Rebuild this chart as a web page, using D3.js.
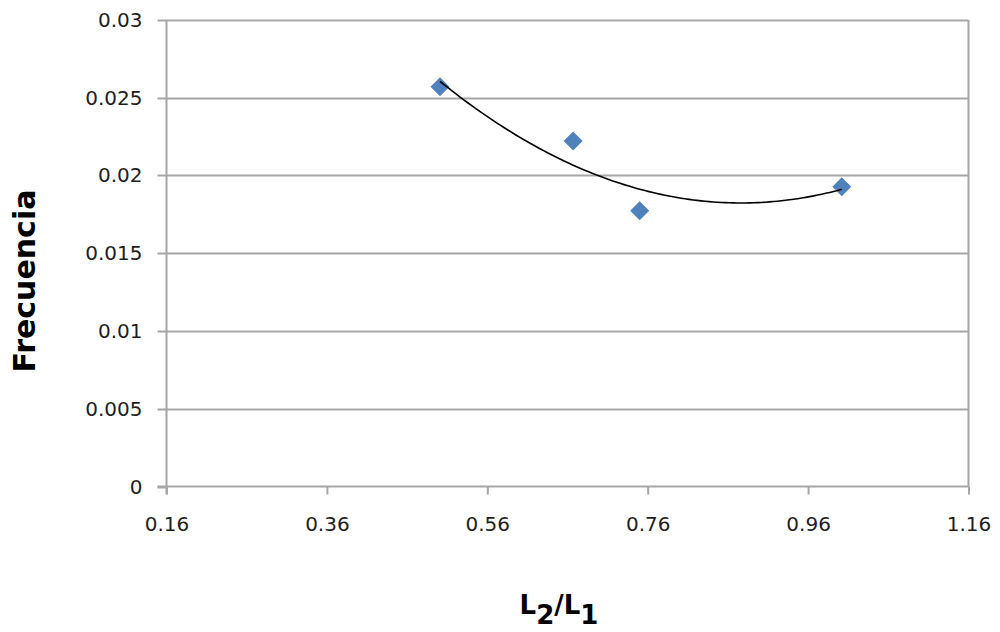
<!DOCTYPE html>
<html>
<head>
<meta charset="utf-8">
<script src="https://cdn.jsdelivr.net/npm/d3@7"></script>
<style>
  html, body { margin: 0; padding: 0; background: #fff; }
  svg { display: block; }
</style>
</head>
<body>
<svg id="chart" width="1000" height="632"></svg>
<script>
// ---- Data ----
const ratioL2L1 = [0.501, 0.667, 0.750, 1.002];
const frecuencia = [0.02571, 0.02222, 0.01774, 0.01928];
const xTickValues = [0.16, 0.36, 0.56, 0.76, 0.96, 1.16];
const yTickValues = [0, 0.005, 0.01, 0.015, 0.02, 0.025, 0.03];
const yTickLabels = ["0", "0.005", "0.01", "0.015", "0.02", "0.025", "0.03"];

(function () {
const svg = d3.select("#chart");
const mLeft = 166.5, mRight = 968.5, mTop = 20, mBottom = 486.5;

const x = d3.scaleLinear().domain([0.16, 1.16]).range([mLeft, mRight]);
const y = d3.scaleLinear().domain([0, 0.03]).range([mBottom, mTop]);

const grid = "#a6a6a6";
const textCol = "#1e1e1e";

// Horizontal gridlines
svg.append("g").selectAll("line").data(yTickValues.slice(1)).join("line")
  .attr("x1", mLeft).attr("x2", mRight)
  .attr("y1", d => Math.round(y(d)) + 0.5).attr("y2", d => Math.round(y(d)) + 0.5)
  .attr("stroke", grid).attr("stroke-width", 2);

// Right border
svg.append("line").attr("x1", mRight).attr("x2", mRight).attr("y1", mTop).attr("y2", mBottom)
  .attr("stroke", grid).attr("stroke-width", 2);

// Y axis
const yAxis = d3.axisLeft(y).tickValues(yTickValues).tickSize(9)
  .tickFormat((d, i) => yTickLabels[i]).tickPadding(15);
const gy = svg.append("g").attr("transform", `translate(${mLeft},0)`).call(yAxis);
gy.select(".domain").remove();
gy.append("line").attr("x1", 0).attr("x2", 0).attr("y1", mTop).attr("y2", mBottom + 8)
  .attr("stroke", grid).attr("stroke-width", 2);
gy.selectAll(".tick line").attr("stroke", grid).attr("stroke-width", 2);
gy.selectAll(".tick").attr("transform", d => `translate(0,${Math.round(y(d)) + 0.5})`);
gy.selectAll("text").attr("font-family", "DejaVu Sans").attr("font-size", 20)
  .attr("fill", textCol);

// X axis
const xAxis = d3.axisBottom(x).tickValues(xTickValues).tickSize(8)
  .tickFormat(d3.format(".2f")).tickPadding(22);
const gx = svg.append("g").attr("transform", `translate(0,${mBottom})`).call(xAxis);
gx.select(".domain").remove();
gx.append("line").attr("x1", mLeft - 9).attr("x2", mRight).attr("y1", 0).attr("y2", 0)
  .attr("stroke", grid).attr("stroke-width", 2);
gx.selectAll(".tick line").attr("stroke", grid).attr("stroke-width", 2);
gx.selectAll("text").attr("font-family", "DejaVu Sans").attr("font-size", 20)
  .attr("fill", textCol);

// Quadratic least-squares trendline (as in the original's polynomial trendline)
function quadFit(xs, ys) {
  const n = xs.length;
  const s = [0,0,0,0,0], t = [0,0,0];
  for (let i = 0; i < n; i++) {
    let p = 1;
    for (let k = 0; k < 5; k++) { s[k] += p; p *= xs[i]; }
    t[0] += ys[i]; t[1] += ys[i]*xs[i]; t[2] += ys[i]*xs[i]*xs[i];
  }
  const A = [[s[0],s[1],s[2],t[0]],[s[1],s[2],s[3],t[1]],[s[2],s[3],s[4],t[2]]];
  for (let c = 0; c < 3; c++) {
    for (let r = c+1; r < 3; r++) {
      const f = A[r][c] / A[c][c];
      for (let k = c; k < 4; k++) A[r][k] -= f * A[c][k];
    }
  }
  const coef = [0,0,0];
  for (let r = 2; r >= 0; r--) {
    let v = A[r][3];
    for (let k = r+1; k < 3; k++) v -= A[r][k]*coef[k];
    coef[r] = v / A[r][r];
  }
  return coef;
}
const cf = quadFit(ratioL2L1, frecuencia);
const x0 = d3.min(ratioL2L1), x1 = d3.max(ratioL2L1);
const curvePts = d3.range(0, 101).map(i => {
  const xv = x0 + (x1 - x0) * i / 100;
  return [xv, cf[0] + cf[1]*xv + cf[2]*xv*xv];
});

// Diamond markers
svg.append("g").selectAll("path").data(ratioL2L1.map((d, i) => [d, frecuencia[i]])).join("path")
  .attr("d", d3.symbol().type(d3.symbolSquare).size(180))
  .attr("transform", d => `translate(${x(d[0])},${y(d[1])}) rotate(45)`)
  .attr("fill", "#4f81bd");

// Trendline on top of markers
svg.append("path").datum(curvePts)
  .attr("d", d3.line().x(d => x(d[0])).y(d => y(d[1])))
  .attr("fill", "none").attr("stroke", "#000").attr("stroke-width", 1.6);

// Axis titles
svg.append("text")
  .attr("transform", "translate(35,281) rotate(-90)")
  .attr("text-anchor", "middle")
  .attr("font-family", "DejaVu Sans").attr("font-weight", "bold").attr("font-size", 30)
  .attr("fill", "#000").text("Frecuencia");

const xt = svg.append("text")
  .attr("x", 559).attr("y", 614)
  .attr("text-anchor", "middle")
  .attr("font-family", "DejaVu Sans").attr("font-weight", "bold").attr("font-size", 26)
  .attr("fill", "#000");
xt.append("tspan").text("L");
xt.append("tspan").attr("dy", 10).text("2");
xt.append("tspan").attr("dy", -10).text("/L");
xt.append("tspan").attr("dy", 10).text("1");
})();
</script>
</body>
</html>
